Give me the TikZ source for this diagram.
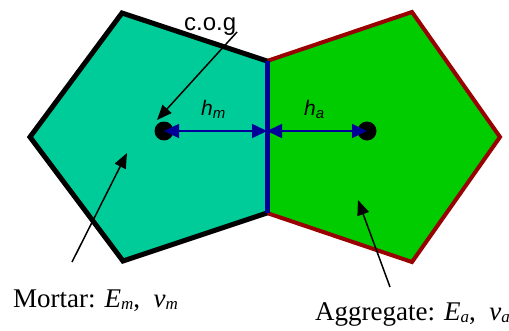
\documentclass[tikz,border=0pt]{standalone}
\usepackage{fontspec}
\setmainfont{Liberation Serif}
\setsansfont{Liberation Sans}
\usetikzlibrary{arrows.meta}
\definecolor{mortarc}{RGB}{0,204,153}
\definecolor{aggrc}{RGB}{0,204,0}
\definecolor{dred}{RGB}{153,0,0}
\definecolor{dblue}{RGB}{0,0,153}
\tikzset{
  dot/.style={circle, fill=black, minimum size=19pt, inner sep=0pt},
  dimarrow/.style={dblue, line width=1.5pt, {Triangle[length=15pt,width=14pt]}-{Triangle[length=15pt,width=14pt]}},
  ptr/.style={black, line width=1.5pt, -{Triangle[length=15pt,width=12pt]}},
  lbl/.style={inner sep=0pt, anchor=base west, font=\fontsize{27}{30}\selectfont},
  hlbl/.style={inner sep=0pt, anchor=base west, font=\sffamily\fontsize{21}{24}\selectfont},
}
\newcommand{\msub}[1]{\raisebox{-2pt}{\fontsize{17}{17}\selectfont\itshape #1}}
\newcommand{\hsub}[1]{\raisebox{-3pt}{\fontsize{15}{15}\selectfont\itshape #1}}
\begin{document}
\begin{tikzpicture}[x=1pt,y=-1pt]
\useasboundingbox (0,0) rectangle (509,330);
\coordinate (jt) at (267,61);
\coordinate (jb) at (267,213);
\coordinate (jm) at (267,131);
% fills
\fill[mortarc] (jt) -- (122,13) -- (30,137) -- (123,261) -- (jb) -- cycle;
\fill[aggrc] (jt) -- (412,12) -- (500,137) -- (412,262) -- (jb) -- cycle;
% borders
\draw[dred, line width=4pt, line join=miter] (jt) -- (412,12) -- (500,137) -- (412,262) -- (jb);
\draw[black, line width=5pt, line join=miter] (jt) -- (122,13) -- (30,137) -- (123,261) -- (jb);
\draw[dblue, line width=5pt] (jt) -- (jb);
% centres of gravity
\node[dot] (cl) at (164,131) {};
\node[dot] (cr) at (367,131) {};
\draw[dimarrow] (cl.center) -- (jm);
\draw[dimarrow] (jm) -- (cr.center);
% labels
\node[hlbl] (hm) at (201,115) {\textit{h}\hsub{m}};
\node[hlbl] (ha) at (304,115) {\textit{h}\hsub{a}};
\node[inner sep=0pt, anchor=base west, font=\sffamily\fontsize{24}{28}\selectfont] (cog) at (184,30) {c.o.g};
\coordinate (cogs) at (237,32);
\draw[ptr] (cogs) -- (157,120);
\node[lbl] (mort) at (13,307) {Mortar: \textit{E}\msub{m}, \ \textit{ν}\msub{m}};
\coordinate (ms) at (72,262);
\draw[ptr] (ms) -- (127,153);
\node[lbl] (agg) at (315,320) {Aggregate: \textit{E}\msub{a}, \ \textit{ν}\msub{a}};
\coordinate (as) at (390,287);
\draw[ptr] (as) -- (358,200);
\end{tikzpicture}
\end{document}
